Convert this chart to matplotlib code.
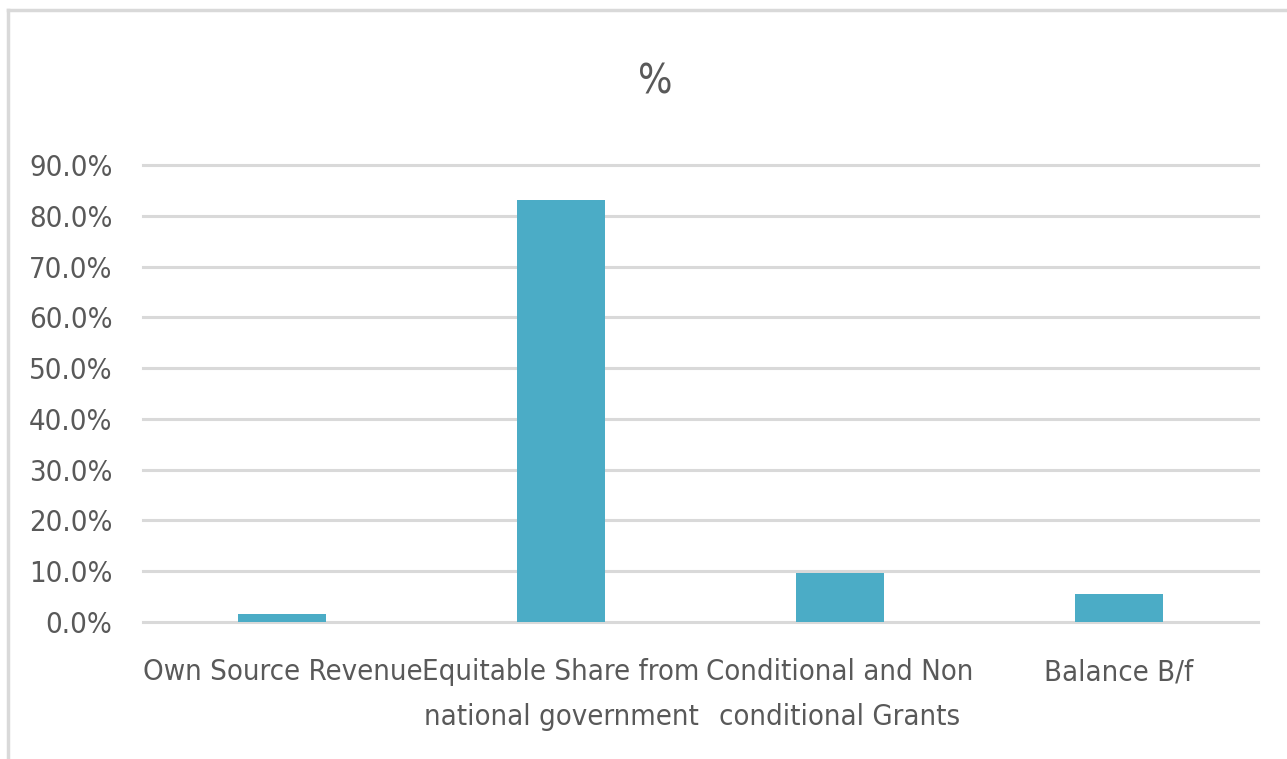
import matplotlib.pyplot as plt
from matplotlib.lines import Line2D
from matplotlib.ticker import FuncFormatter
from matplotlib import font_manager

categories = [
    "Own Source Revenue",
    "Equitable Share from\nnational government",
    "Conditional and Non\nconditional Grants",
    "Balance B/f",
]
shares = [1.5, 83.1, 9.6, 5.5]  # percent
y_ticks = [0, 10, 20, 30, 40, 50, 60, 70, 80, 90]

# look for a narrow face, the original uses a condensed font
narrow = None
for f in font_manager.fontManager.ttflist:
    fn = f.fname.lower()
    if ("narrow" in fn or "condensed" in fn) and "bold" not in fn and "oblique" not in fn \
            and "italic" not in fn and "mono" not in fn and "serif" not in fn.replace("sans", ""):
        narrow = f.fname
        break

TEXT = "#595959"
GRID = "#d9d9d9"
BAR = "#4bacc6"


def fp(size):
    if narrow:
        return font_manager.FontProperties(fname=narrow, size=size)
    return font_manager.FontProperties(family="DejaVu Sans", size=size * 0.9)


fig = plt.figure(figsize=(12.87, 7.59), dpi=100)
ax = fig.add_axes([143 / 1287, 1 - 622 / 759, 1115 / 1287, 457 / 759])

x = range(len(categories))
ax.bar(x, shares, width=0.315, color=BAR, zorder=3)

ax.set_xlim(-0.5, len(categories) - 0.5)
ax.set_ylim(0, 90)
ax.set_yticks(y_ticks)
ax.yaxis.set_major_formatter(FuncFormatter(lambda v, _: f"{v:.1f}%"))
ax.set_xticks(list(x))
ax.set_xticklabels(categories, linespacing=1.75)
ax.grid(axis="y", color=GRID, linewidth=2.2, zorder=0)
for gl in ax.get_ygridlines():
    gl.set_clip_on(False)
ax.tick_params(axis="both", length=0, colors=TEXT)
ax.tick_params(axis="x", pad=26)
ax.tick_params(axis="y", pad=22)
for lab in ax.get_xticklabels() + ax.get_yticklabels():
    lab.set_fontproperties(fp(21))
for s in ax.spines.values():
    s.set_visible(False)

fig.text(655 / 1287, 1 - 83 / 759, "%", ha="center", va="center",
         fontproperties=fp(29), color=TEXT)

# outer chart border (cropped at right/bottom)
fig.add_artist(Line2D([8 / 1287, 8 / 1287], [0, 1 - 10 / 759],
                      transform=fig.transFigure, color=GRID, linewidth=2.5))
fig.add_artist(Line2D([8 / 1287, 1], [1 - 10 / 759, 1 - 10 / 759],
                      transform=fig.transFigure, color=GRID, linewidth=2.5))

fig.savefig("out.png", dpi=100)
